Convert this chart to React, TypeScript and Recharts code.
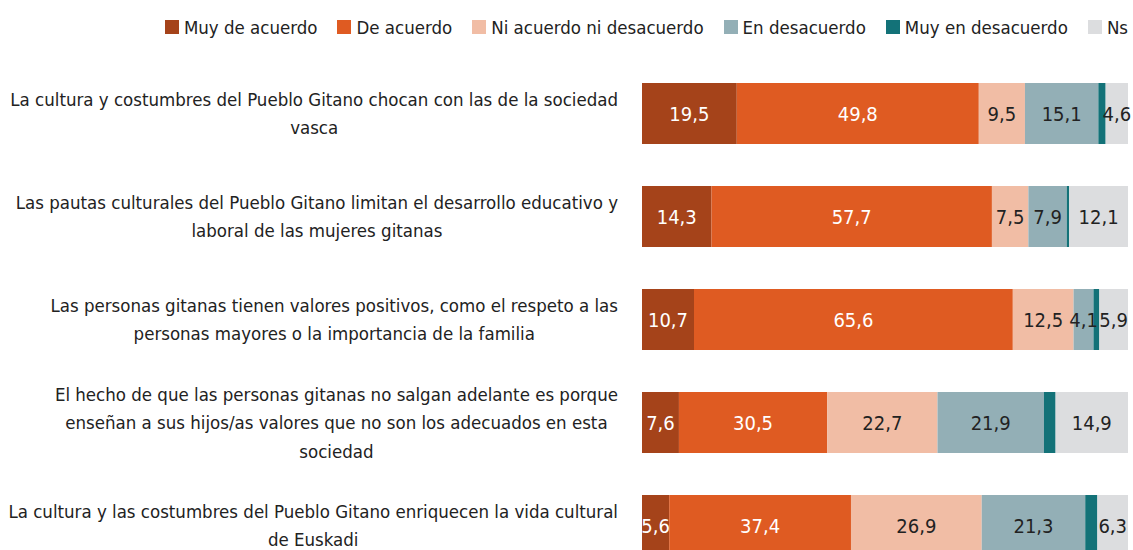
import React from 'react';
import { BarChart, Bar, XAxis, YAxis, Legend, LabelList } from 'recharts';

const FONT = "'DejaVu Sans', sans-serif";
const STRETCH = 'condensed';
const LABEL_SIZE = 18.5;

const categories = [
  'La cultura y costumbres del Pueblo Gitano chocan con las de la sociedad\nvasca',
  'Las pautas culturales del Pueblo Gitano limitan el desarrollo educativo y\nlaboral de las mujeres gitanas',
  'Las personas gitanas tienen valores positivos, como el respeto a las\npersonas mayores o la importancia de la familia',
  'El hecho de que las personas gitanas no salgan adelante es porque\nenseñan a sus hijos/as valores que no son los adecuados en esta\nsociedad',
  'La cultura y las costumbres del Pueblo Gitano enriquecen la vida cultural\nde Euskadi',
];

const muyDeAcuerdo = [19.5, 14.3, 10.7, 7.6, 5.6];
const deAcuerdo = [49.8, 57.7, 65.6, 30.5, 37.4];
const niAcuerdo = [9.5, 7.5, 12.5, 22.7, 26.9];
const enDesacuerdo = [15.1, 7.9, 4.1, 21.9, 21.3];
const muyEnDesacuerdo = [1.5, 0.5, 1.2, 2.4, 2.5];
const ns = [4.6, 12.1, 5.9, 14.9, 6.3];

const series = [
  { key: 'muyDeAcuerdo', name: 'Muy de acuerdo', color: '#A5431A', labelColor: '#ffffff', values: muyDeAcuerdo },
  { key: 'deAcuerdo', name: 'De acuerdo', color: '#DF5B22', labelColor: '#ffffff', values: deAcuerdo },
  { key: 'niAcuerdo', name: 'Ni acuerdo ni desacuerdo', color: '#F1BDA5', labelColor: '#222222', values: niAcuerdo },
  { key: 'enDesacuerdo', name: 'En desacuerdo', color: '#93AFB6', labelColor: '#222222', values: enDesacuerdo },
  { key: 'muyEnDesacuerdo', name: 'Muy en desacuerdo', color: '#137278', labelColor: null, values: muyEnDesacuerdo },
  { key: 'ns', name: 'Ns', color: '#DCDDDF', labelColor: '#222222', values: ns },
];

const data = categories.map((name, i) => {
  const row: Record<string, any> = { name };
  series.forEach(s => { row[s.key] = s.values[i]; });
  return row;
});

const fmt = (v: any) => Number(v).toFixed(1).replace('.', ',');

let ctx: CanvasRenderingContext2D | null = null;
const measure = (text: string) => {
  if (!ctx) ctx = document.createElement('canvas').getContext('2d');
  if (!ctx) return text.length * 8.5;
  ctx.font = `${STRETCH} ${LABEL_SIZE}px ${FONT}`;
  return ctx.measureText(text).width;
};

// multi-line label: block right-aligned to the axis, lines centred inside it
const CategoryTick = (props: any) => {
  const { x, y, payload } = props;
  const lines: string[] = String(payload.value).split('\n');
  const lh = 28.5;
  const maxW = Math.max(...lines.map(measure));
  const cx = x - maxW / 2;
  const y0 = y - ((lines.length - 1) * lh) / 2;
  return (
    <text textAnchor="middle" fontSize={LABEL_SIZE} fill="#222" style={{ fontFamily: FONT, fontStretch: STRETCH }}>
      {lines.map((l, i) => (
        <tspan key={i} x={cx} y={y0 + i * lh} dominantBaseline="central">{l}</tspan>
      ))}
    </text>
  );
};

const renderLegend = () => (
  <div style={{ height: 62, boxSizing: 'border-box', paddingTop: 15, display: 'flex', justifyContent: 'flex-end', fontFamily: FONT, fontStretch: STRETCH, fontSize: LABEL_SIZE, color: '#222' }}>
    {series.map((s, i) => (
      <div key={s.key} style={{ display: 'flex', alignItems: 'center', height: 24, marginLeft: i === 0 ? 0 : 20 }}>
        <span style={{ width: 14, height: 14, background: s.color, display: 'inline-block', marginRight: 5 }} />
        <span>{s.name}</span>
      </div>
    ))}
  </div>
);

export default function App() {
  return (
    <div style={{ position: 'absolute', left: 0, top: 0, width: 1133, height: 550, overflow: 'hidden', background: '#fff', fontStretch: STRETCH }}>
      <BarChart
        width={1133}
        height={577}
        data={data}
        layout="vertical"
        margin={{ top: 0, right: 5, bottom: 0, left: 0 }}
        barSize={61}
        style={{ fontFamily: FONT, fontStretch: STRETCH }}
      >
        <XAxis type="number" domain={[0, 100]} hide />
        <YAxis
          type="category"
          dataKey="name"
          width={642}
          axisLine={false}
          tickLine={false}
          tickSize={0}
          tickMargin={24}
          tick={<CategoryTick />}
          interval={0}
        />
        <Legend verticalAlign="top" align="right" content={renderLegend} />
        {series.map(s => (
          <Bar key={s.key} dataKey={s.key} name={s.name} stackId="a" fill={s.color} isAnimationActive={false}>
            {s.labelColor && (
              <LabelList
                dataKey={s.key}
                position="center"
                formatter={fmt}
                fill={s.labelColor}
                style={{ fontSize: 20, fontFamily: FONT, fontStretch: STRETCH }}
              />
            )}
          </Bar>
        ))}
      </BarChart>
    </div>
  );
}
